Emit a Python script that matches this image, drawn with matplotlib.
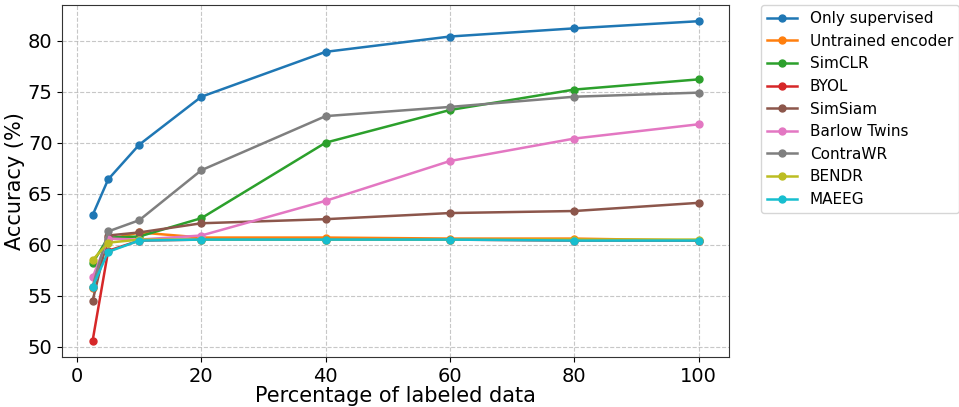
import matplotlib
matplotlib.use("Agg")
import matplotlib.pyplot as plt

pct = [2.5, 5, 10, 20, 40, 60, 80, 100]

only_supervised = [62.9, 66.4, 69.8, 74.5, 78.9, 80.4, 81.2, 81.9]
untrained = [55.8, 60.5, 61.2, 60.7, 60.7, 60.6, 60.6, 60.4]
simclr = [58.2, 60.7, 60.8, 62.6, 70.0, 73.2, 75.2, 76.2]
byol = [50.6, 59.4, 60.4, 60.5, 60.5, 60.5, 60.4, 60.4]
simsiam = [54.5, 60.9, 61.2, 62.1, 62.5, 63.1, 63.3, 64.1]
barlow = [56.8, 60.6, 60.5, 60.9, 64.3, 68.2, 70.4, 71.8]
contrawr = [55.9, 61.3, 62.4, 67.3, 72.6, 73.5, 74.5, 74.9]
bendr = [58.5, 60.2, 60.5, 60.5, 60.5, 60.5, 60.5, 60.5]
maeeg = [55.9, 59.3, 60.4, 60.5, 60.5, 60.5, 60.4, 60.4]

series = [
    ("Only supervised", only_supervised, "tab:blue"),
    ("Untrained encoder", untrained, "tab:orange"),
    ("SimCLR", simclr, "tab:green"),
    ("BYOL", byol, "tab:red"),
    ("SimSiam", simsiam, "tab:brown"),
    ("Barlow Twins", barlow, "tab:pink"),
    ("ContraWR", contrawr, "tab:gray"),
    ("BENDR", bendr, "tab:olive"),
    ("MAEEG", maeeg, "tab:cyan"),
]

fig, ax = plt.subplots(figsize=(9.59, 4.07), dpi=100)
fig.subplots_adjust(left=0.065, right=0.76, top=0.988, bottom=0.123)

for name, vals, col in series:
    ax.plot(pct, vals, marker="o", markersize=5, linewidth=1.8, color=col, label=name)

ax.set_xlabel("Percentage of labeled data", fontsize=15, labelpad=0)
ax.set_ylabel("Accuracy (%)", fontsize=15, labelpad=2)
ax.tick_params(labelsize=14)
ax.set_xticks([0, 20, 40, 60, 80, 100])
ax.set_yticks([50, 55, 60, 65, 70, 75, 80])
ax.set_ylim(49.0, 83.5)
ax.grid(True, linestyle="--", alpha=0.7)
for s in ax.spines.values():
    s.set_color("#333333")
ax.legend(loc="upper left", bbox_to_anchor=(1.048, 1.0), borderaxespad=0,
          fontsize=11, handlelength=2.0, labelspacing=0.5)

fig.savefig("out.png")
